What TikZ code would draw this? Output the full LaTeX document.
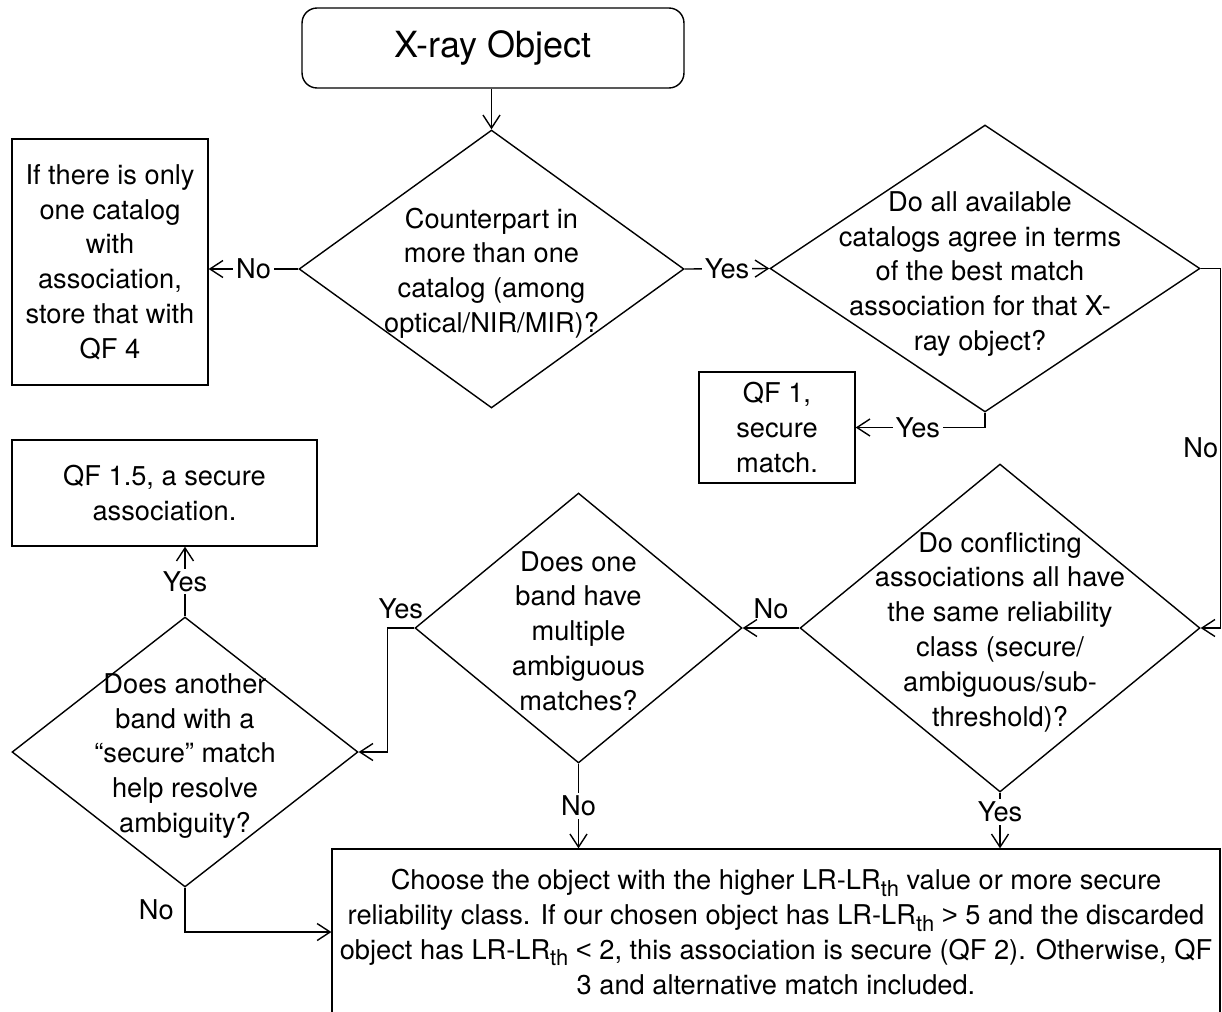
\documentclass[tikz,border=0pt]{standalone}
\usepackage{fontspec}
\setmainfont{TeX Gyre Heros}
\newfontfamily\symfont{Liberation Sans}
\usetikzlibrary{arrows.meta, positioning, shapes.geometric}
\newcommand{\lrth}{LR-LR\raisebox{-0.45ex}{\fontsize{12.5}{12.5}\selectfont th}}

\begin{document}
\begin{tikzpicture}[x=0.02cm, y=-0.02cm, font=\fontsize{15.5}{19.8}\selectfont]
    \tikzset{
    block/.style    = {draw, line width=0.8pt, rectangle, align=center, inner sep=0pt},
    start/.style    = {block, rounded corners=0.3cm, font=\fontsize{20.5}{24}\selectfont},
    decision/.style = {draw, line width=0.8pt, diamond, inner sep=0pt},
    txt/.style      = {align=center, inner sep=0pt},
    lbl/.style      = {fill=white, inner sep=1.5pt},
    line/.style     = {line width=0.8pt, -{Straight Barb[length=2.6mm, width=3.4mm]}}
    }
    \useasboundingbox (0,0) rectangle (1222,1011);

    % Start and first question
    \node[start, minimum width=7.64cm, minimum height=1.6cm] (xray) at (493,48) {X-ray Object};
    \node[decision, minimum width=7.7cm, minimum height=5.56cm] (cpart) at (491.5,269) {};
    \node[txt] (cpartt) at (491.5,273) {Counterpart in\\more than one\\catalog (among\\optical/NIR/MIR)?};
    \node[block, minimum width=3.92cm, minimum height=4.92cm] (onecat) at (110,262)
        {If there is only\\one catalog\\with\\association,\\store that with\\QF 4};

    % Agreement of catalogs
    \node[decision, minimum width=8.6cm, minimum height=5.74cm] (agree) at (985,268.5) {};
    \node[txt] (agreet) at (980,274) {Do all available\\catalogs agree in terms\\of the best match\\association for that X-\\ray object?};
    \node[block, minimum width=3.12cm, minimum height=2.22cm] (qfone) at (777,427.5) {QF 1,\\secure\\match.};

    % Conflicts and ambiguity
    \node[decision, minimum width=8cm, minimum height=6.56cm] (conflict) at (1000,628) {};
    \node[txt] (conflictt) at (1000,632) {Do conflicting\\associations all have\\the same reliability\\class (secure/\\ambiguous/sub-\\threshold)?};
    \node[decision, minimum width=6.54cm, minimum height=5.4cm] (multi) at (578.5,628) {};
    \node[txt] (multit) at (578.5,631) {Does one\\band have\\multiple\\ambiguous\\matches?};
    \node[decision, minimum width=6.92cm, minimum height=5.4cm] (another) at (185,752) {};
    \node[txt] (anothert) at (185,756) {Does another\\band with a\\“secure” match\\help resolve\\ambiguity?};
    \node[block, minimum width=6.1cm, minimum height=2.12cm] (qfonefive) at (164.5,493) {QF 1.5, a secure\\association.};
    \node[block, minimum width=17.76cm, minimum height=3.32cm] (choose) at (776,932)
        {Choose the object with the higher \lrth{} value or more secure\\
         reliability class. If our chosen object has \lrth{} {\symfont>} 5 and the discarded\\
         object has \lrth{} {\symfont<} 2, this association is secure (QF 2). Otherwise, QF\\
         3 and alternative match included.};

    % Connections
    \draw[line] (cpart.north |- xray.south) -- (cpart.north);
    \draw[line] (cpart.west) -- node[lbl]{No} (cpart.west -| onecat.east);
    \draw[line] (cpart.east) -- node[lbl]{Yes} (agree.west);
    \draw[line] (agree.south) |- node[lbl, pos=0.76]{Yes} (qfone.east);
    \draw[line] (agree.east) -- ++(20,0) |- node[pos=0.25, left, inner sep=1pt]{No} (conflict.east);
    \draw[line] (conflict.west) -- node[above, inner sep=5pt]{No} (multi.east);
    \draw[line] (conflict.south) -- node[lbl, pos=0.35]{Yes} (conflict.south |- choose.north);
    \draw[line] (multi.south) -- node[lbl]{No} (multi.south |- choose.north);
    \draw[line] (multi.west) -- node[above, inner sep=5pt]{Yes} ++(-27,0) |- (another.east);
    \draw[line] (another.north) -- node[lbl]{Yes} (another.north |- qfonefive.south);
    \draw[line] (another.south) |- node[pos=0.25, left, inner sep=6pt]{No} (choose.west);
\end{tikzpicture}
\end{document}
